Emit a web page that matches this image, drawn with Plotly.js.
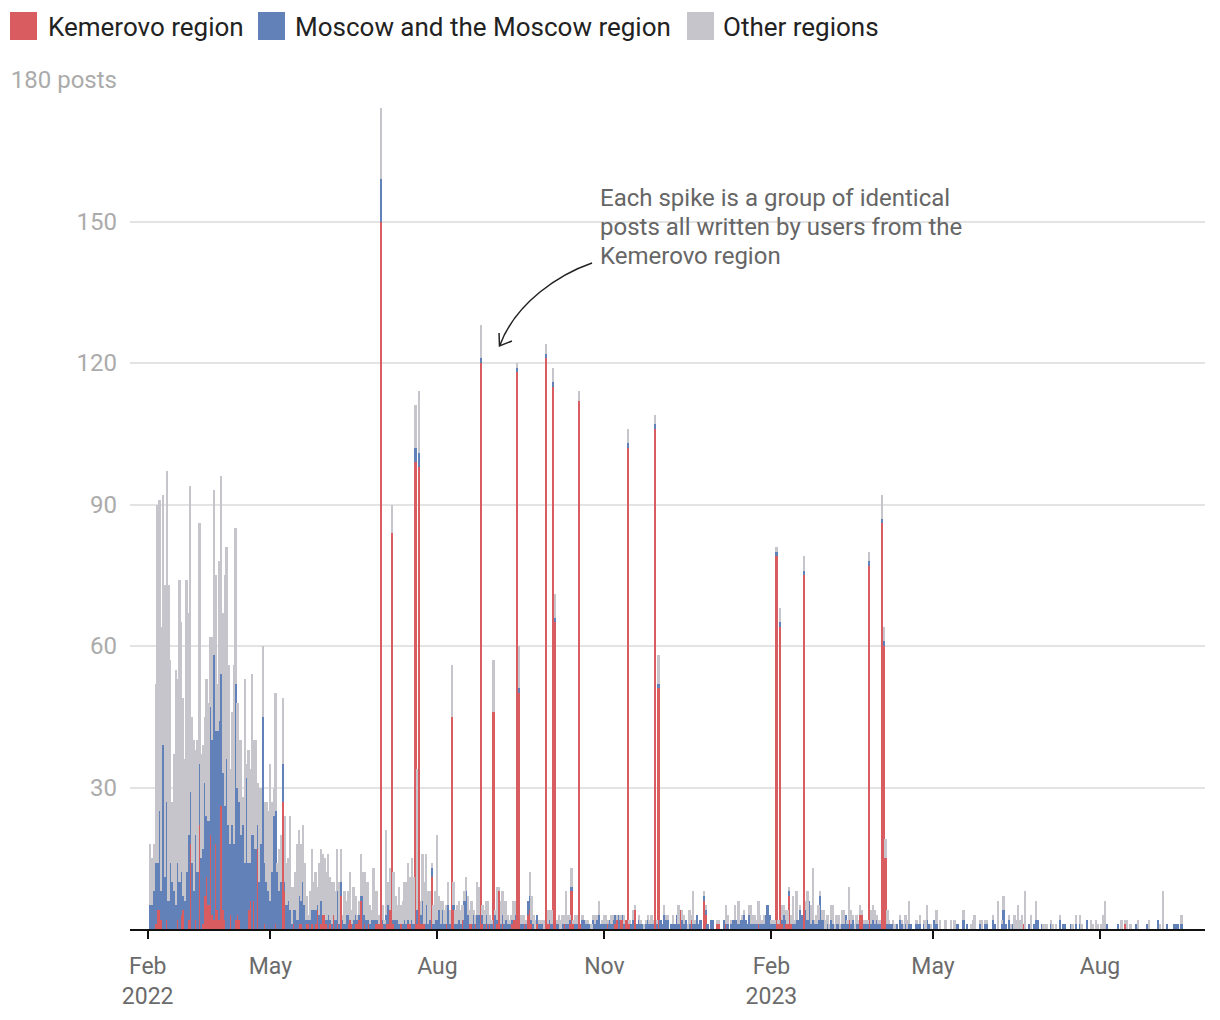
<!DOCTYPE html>
<html>
<head>
<meta charset="utf-8">
<script src="https://cdn.plot.ly/plotly-3.0.1.min.js"></script>
<style>
html,body{margin:0;padding:0;background:#fff;}
#chart{width:1220px;height:1020px;}
</style>
</head>
<body>
<div id="chart"></div>
<script>
// first day of the daily series
const START_DATE = [2022, 1, 24]; // 24 Feb 2022 (month is 0-based)

// Kemerovo region, posts per day
const kemerovo = [
0,0,0,1,4,4,2,0,0,2, 0,0,0,0,0,2,0,3,4,0, 0,2,18,0,0,2,0,22,0,1, 7,11,5,20,3,2,18,4,2,26,
4,2,0,0,3,0,0,2,3,2, 0,0,0,0,4,6,0,6,0,17, 0,0,0,1,0,0,0,0,0,1, 0,0,0,27,8,0,0,0,0,1,
0,0,1,1,0,0,1,1,0,1, 0,1,4,0,1,3,3,1,0,1, 0,3,0,1,0,7,0,0,0,1, 2,1,0,1,1,2,6,0,1,0,
1,0,0,0,1,1,1,150,1,0, 1,1,4,84,1,0,0,0,1,0, 0,0,1,1,0,0,99,1,98,1, 1,1,0,0,0,11,0,0,0,0,
0,0,0,1,0,0,45,4,0,0, 0,0,2,0,0,0,1,1,0,1, 0,0,120,1,0,1,0,1,0,46, 0,1,8,0,1,0,0,0,0,1,
2,2,118,50,0,0,1,0,3,4, 1,0,0,1,0,0,0,0,121,1, 1,0,115,65,0,0,0,0,1,0, 0,1,8,1,0,0,112,1,0,0,
0,0,0,0,0,0,0,0,0,0, 0,0,1,0,0,0,1,2,0,2, 2,0,2,102,1,0,0,4,0,0, 0,0,0,0,0,0,0,0,106,0,
51,0,0,0,0,0,0,0,0,0, 0,0,4,0,0,0,0,0,2,0, 0,0,0,0,0,6,3,0,0,0, 0,0,1,1,0,0,0,1,0,0,
0,0,0,0,0,0,0,0,0,0, 0,0,0,0,0,1,0,0,0,0, 0,0,0,0,0,79,1,64,1,0, 1,1,7,1,0,0,0,0,0,0,
75,0,0,0,0,0,0,0,0,0, 0,0,0,0,0,0,0,0,0,0, 0,0,0,0,0,2,0,0,0,0, 0,3,3,0,0,0,77,0,0,0,
0,0,0,86,60,15,0,0,0,0, 0,0,0,0,0,0,0,0,0,0, 0,0,0,0,0,0,0,0,0,0, 0,0,0,0,0,0,0,0,0,0,
0,0,0,0,0,0,0,0,0,0, 0,0,0,0,0,0,0,0,0,0, 0,0,0,0,0,0,0,0,0,0, 0,0,0,0,0,0,0,0,0,0,
0,1,0,0,0,0,0,0,0,0, 0,0,0,0,0,0,0,0,0,0, 0,0,0,0,0,0,0,0,0,0, 0,0,0,0,0,0,0,0,0,0,
0,0,0,0,0,0,0,0,0,0, 0,0,0,0,0,0,0,1,0,0, 0,0,0,0,0,0,0,0,0,0, 0,0,0,0,0,0,0,0,0,0,
0,0,0,0,0,0,0,0,0
];

// Moscow and the Moscow region, posts per day
const moscow = [
5,5,8,13,10,21,6,39,11,25, 6,14,10,8,5,12,10,9,3,6, 12,18,11,14,8,18,12,13,15,16, 24,13,18,27,37,56,24,38,42,28,
29,24,36,22,15,22,18,50,27,25, 20,22,14,32,10,8,20,14,17,5, 10,18,45,13,10,8,6,12,24,24, 12,8,10,8,2,5,6,4,1,3,
4,2,6,5,10,5,1,1,2,3, 4,3,1,3,5,0,0,1,3,1, 1,0,2,7,1,3,2,1,3,2, 0,0,2,2,1,1,1,7,2,2,
1,1,2,2,1,1,0,9,1,1, 2,4,0,0,1,2,2,1,0,1, 2,1,1,0,2,1,3,3,3,2, 5,0,5,1,2,2,1,2,2,4,
1,4,1,0,5,1,0,1,1,1, 2,1,0,6,8,3,0,0,3,0, 3,3,1,2,1,2,1,0,1,0, 3,1,0,1,2,1,2,1,1,1,
0,1,1,1,1,1,0,1,3,3, 1,1,0,2,1,1,1,0,1,0, 1,1,1,1,1,1,0,1,0,1, 1,1,1,0,1,1,0,0,2,2,
1,1,1,0,2,1,2,3,1,1, 1,1,0,2,1,2,2,0,3,0, 1,1,0,1,0,1,2,0,1,2, 1,1,0,1,2,1,1,1,1,1,
1,2,1,3,2,2,0,1,1,1, 3,1,0,2,1,2,0,1,0,1, 1,3,1,2,0,1,1,1,0,2, 2,0,0,0,0,0,2,0,1,0,
1,2,2,2,1,2,2,3,2,1, 3,1,1,1,1,0,1,1,1,3, 5,3,1,1,1,1,0,1,1,3, 1,0,1,0,1,1,2,2,4,3,
1,4,2,6,1,2,1,1,2,7, 2,2,0,1,0,2,1,0,1,1, 0,1,1,3,1,0,1,2,0,1, 1,0,0,1,1,1,1,1,2,1,
2,1,1,1,1,0,1,1,1,1, 0,1,0,2,1,0,1,0,1,1, 0,0,1,1,1,0,1,0,2,1, 0,0,2,1,0,0,0,0,0,0,
0,0,0,0,1,1,0,0,2,0, 1,0,0,0,0,0,0,1,0,0, 1,1,0,0,2,1,0,0,0,1, 4,1,0,2,0,1,0,0,0,0,
0,0,0,0,1,0,0,1,2,2, 0,1,0,0,0,0,1,0,0,0, 0,2,0,1,1,0,0,1,0,0, 1,0,1,0,0,0,2,0,0,0,
0,0,0,0,0,0,0,1,0,0, 0,0,0,1,0,0,0,0,0,0, 0,0,0,1,0,0,0,0,0,1, 0,0,0,0,0,2,0,0,0,0,
1,0,0,0,1,1,1,0,1
];

// Other regions, posts per day
const other = [
13,10,10,38,76,66,56,53,62,70, 67,43,17,29,50,39,64,53,42,30, 62,47,65,31,32,18,28,51,22,22, 14,29,25,15,22,35,33,10,34,42,
34,49,45,34,16,24,38,33,18,13, 20,6,39,3,24,20,34,20,23,9, 20,12,15,13,17,17,29,15,6,25, 2,9,10,14,14,9,9,20,8,5,
8,16,14,12,12,9,5,1,6,13, 6,8,4,11,11,13,12,10,13,9, 9,7,6,9,9,7,1,7,3,5, 10,3,7,4,1,3,9,5,9,8,
8,4,2,11,6,6,2,15,3,1, 18,5,9,6,10,5,3,8,4,5, 8,9,12,10,13,10,9,30,13,3, 10,9,11,7,6,1,4,6,18,3,
5,2,3,4,5,3,11,5,3,4, 4,3,3,2,3,4,3,5,1,2, 7,6,7,2,3,3,5,2,1,11, 1,7,1,5,5,5,4,2,1,1,
4,3,1,9,2,2,2,1,0,5, 5,2,2,0,1,1,1,2,2,3, 2,3,3,5,1,2,2,2,2,7, 2,1,4,1,2,2,2,0,1,0,
1,1,0,1,1,2,1,3,0,1, 2,2,1,0,2,1,0,1,0,1, 0,2,0,3,1,0,2,1,0,1, 1,0,1,1,1,1,2,1,2,1,
6,0,0,2,1,1,0,0,2,0, 0,4,0,2,2,0,1,3,1,7, 1,0,0,0,0,1,1,0,0,0, 0,0,1,1,0,0,0,4,2,0,
1,0,3,0,5,0,1,1,0,0, 2,4,2,2,1,5,2,1,2,0, 0,0,1,1,1,1,1,3,3,2, 2,3,1,2,6,1,6,0,1,0,
3,2,6,0,4,11,1,2,3,1, 2,2,2,2,1,3,4,1,2,2, 1,3,3,0,1,7,3,1,1,2, 1,2,1,1,1,1,2,3,3,3,
1,1,1,5,3,4,3,1,0,1, 1,0,0,1,1,1,2,2,5,0, 0,0,1,0,2,0,1,2,3,0, 1,0,0,3,0,2,0,0,2,0,
0,2,0,2,0,0,0,0,2,0, 0,0,1,2,3,0,0,1,2,0, 1,1,0,0,1,0,0,6,0,1, 3,0,0,1,1,0,3,2,5,2,
3,0,8,0,0,3,0,0,4,0, 0,0,1,1,1,0,1,1,0,1, 0,1,0,0,0,0,0,0,1,0, 2,0,2,1,0,0,0,0,2,1,
0,2,1,0,1,3,6,0,0,0, 0,0,0,0,0,2,0,1,2,0, 1,0,0,0,2,0,0,0,0,0, 2,0,0,0,0,0,1,0,8,0,
0,0,0,0,0,0,0,0,2
];

const seriesNames = ['Kemerovo region', 'Moscow and the Moscow region', 'Other regions'];
const seriesColors = ['#d95c60', '#6281b8', '#c5c5cb'];

const xTickVals = ['2022-02-22 10:00', '2022-05-01', '2022-08-01', '2022-11-01', '2023-02-01', '2023-05-01', '2023-08-01'];
const xTickText = ['Feb<br>2022', 'May', 'Aug', 'Nov', 'Feb<br>2023', 'May', 'Aug'];
const yTickVals = [30, 60, 90, 120, 150, 180];
const yTickText = ['30', '60', '90', '120', '150', '180 posts'];

const noteLines = ['Each spike is a group of identical', 'posts all written by users from the', 'Kemerovo region'];

function pad(n){ return (n < 10 ? '0' : '') + n; }
const days = kemerovo.map((_, i) => {
  const d = new Date(Date.UTC(START_DATE[0], START_DATE[1], START_DATE[2] + i));
  return d.getUTCFullYear() + '-' + pad(d.getUTCMonth() + 1) + '-' + pad(d.getUTCDate());
});

const values = [kemerovo, moscow, other];
const traces = values.map((v, k) => ({
  type: 'bar',
  x: days,
  y: v,
  name: seriesNames[k],
  marker: { color: seriesColors[k], line: { width: 0, color: seriesColors[k] } },
  hoverinfo: 'x+y+name',
  showlegend: false
}));

// plot area in pixels
const L = 130, R = 15, T = 80, B = 91, W = 1220, H = 1020;
const PW = W - L - R, PH = H - T - B;
function px(x){ return (x - L) / PW; }
function py(y){ return (H - B - y) / PH; }
function P(x, y){ return px(x).toFixed(4) + ',' + py(y).toFixed(4); }

const FONT = 'Roboto, "Open Sans", Arial, sans-serif';

// custom legend
const legendItems = [
  { sq: 10, tx: 46 },
  { sq: 258, tx: 293 },
  { sq: 687, tx: 721 }
];
const shapes = [];
const annotations = [];
legendItems.forEach((it, k) => {
  shapes.push({
    type: 'rect', xref: 'paper', yref: 'paper',
    x0: px(it.sq), x1: px(it.sq + 27), y0: py(40), y1: py(12),
    fillcolor: seriesColors[k], line: { width: 0 }
  });
  annotations.push({
    xref: 'paper', yref: 'paper', x: px(it.tx), y: py(27),
    xanchor: 'left', yanchor: 'middle', showarrow: false,
    text: seriesNames[k], font: { family: FONT, size: 26, color: '#222' }
  });
});

// note and curved arrow
const noteY = [198, 227, 256];
noteLines.forEach((t, k) => {
  annotations.push({
    xref: 'paper', yref: 'paper', x: px(598), y: py(noteY[k]),
    xanchor: 'left', yanchor: 'middle', align: 'left', showarrow: false,
    text: t, font: { family: FONT, size: 24, color: '#666' }
  });
});
shapes.push({
  type: 'path', xref: 'paper', yref: 'paper',
  path: 'M' + P(592, 263) + ' C' + P(560, 274) + ' ' + P(516, 302) + ' ' + P(500, 345),
  line: { color: '#222', width: 1.5 }
});
shapes.push({
  type: 'path', xref: 'paper', yref: 'paper',
  path: 'M' + P(499, 333) + ' L' + P(499.5, 346) + ' L' + P(512, 341),
  line: { color: '#222', width: 1.5 }
});

const layout = {
  width: W, height: H,
  margin: { l: L, r: R, t: T, b: B, pad: 0 },
  paper_bgcolor: '#fff', plot_bgcolor: '#fff',
  barmode: 'stack', bargap: 0,
  font: { family: FONT, size: 22, color: '#666' },
  showlegend: false,
  dragmode: false,
  xaxis: {
    type: 'date',
    range: ['2022-02-12 16:00', '2023-09-27 20:00'],
    tickmode: 'array', tickvals: xTickVals, ticktext: xTickText,
    ticks: 'outside', ticklen: 8, tickwidth: 2, tickcolor: '#111',
    ticklabelstandoff: 7,
    showline: true, linecolor: '#111', linewidth: 2,
    showgrid: false, zeroline: false, fixedrange: true,
    tickfont: { family: FONT, size: 23, color: '#6b6b6b' }
  },
  yaxis: {
    range: [0, 180],
    tickmode: 'array', tickvals: yTickVals, ticktext: yTickText,
    ticks: '', ticklabelstandoff: 12,
    showgrid: true, gridcolor: '#e3e3e3', gridwidth: 1.5,
    zeroline: false, showline: false, fixedrange: true,
    tickfont: { family: FONT, size: 24, color: '#ababab' }
  },
  shapes: shapes,
  annotations: annotations
};

Plotly.newPlot('chart', traces, layout, { displayModeBar: false, responsive: false });
</script>
</body>
</html>
